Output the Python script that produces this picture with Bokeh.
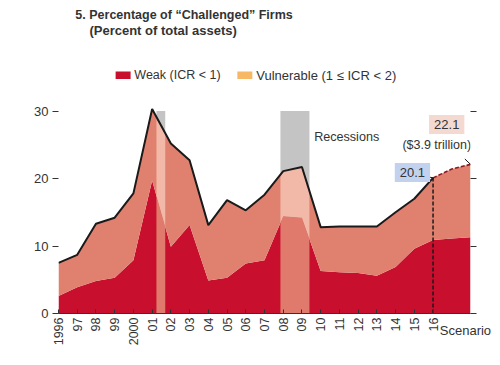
import numpy as np
from bokeh.plotting import figure
from bokeh.models import FixedTicker, LinearAxis, Label, ColumnDataSource
from bokeh.embed import file_html
from bokeh.resources import INLINE

years = list(range(1996, 2019))
total = [7.5, 8.7, 13.3, 14.2, 17.8, 30.3, 25.2, 22.7, 13.1, 16.8, 15.3, 17.6,
         21.1, 21.7, 12.8, 12.9, 12.9, 12.9, 15.0, 17.0, 20.1, 21.4, 22.1]
weak = [2.6, 3.9, 4.8, 5.3, 7.9, 19.7, 9.9, 13.1, 4.9, 5.3, 7.4, 7.9,
        14.4, 14.2, 6.3, 6.1, 6.0, 5.6, 6.9, 9.6, 10.9, 11.1, 11.3]
hist_end = 2016
tick_labels = ["1996", "97", "98", "99", "2000", "01", "02", "03", "04", "05", "06",
               "07", "08", "09", "10", "11", "12", "13", "14", "15", "16"]
scenario_label = "Scenario"
scenario_pos = 2017.73
rec_start = [2001.23, 2007.85]
rec_end = [2001.7, 2009.4]
rec_top = 30

FONT = "Liberation Sans"
TXT = "#333333"
WEAK_C = "#C8102E"
VULN_C = "#E0806E"
WEAK_BAND = "#E07A6C"
VULN_BAND = "#F2B8A8"
LEG_VULN = "#F7B865"

p = figure(width=492, height=353, x_range=(1996, 2018), y_range=(0, 45.2),
           output_backend="svg", toolbar_location=None,
           min_border_left=58, min_border_right=22, min_border_top=8, min_border_bottom=40)
p.outline_line_color = None
p.grid.grid_line_color = None
p.background_fill_color = "white"
p.border_fill_color = "white"

src = ColumnDataSource(dict(x=years, total=total, weak=weak, zero=[0] * len(years)))

p.quad(left=rec_start, right=rec_end, bottom=[0] * len(rec_start), top=[rec_top] * len(rec_start),
       fill_color="#C4C4C4", line_color=None)

p.varea(x="x", y1="zero", y2="weak", source=src, fill_color=WEAK_C)
p.varea(x="x", y1="weak", y2="total", source=src, fill_color=VULN_C)

for s, e in zip(rec_start, rec_end):
    xs = sorted([s, e] + [y for y in years if s < y < e])
    w = np.interp(xs, years, weak)
    t = np.interp(xs, years, total)
    p.varea(x=xs, y1=[0] * len(xs), y2=w, fill_color=WEAK_BAND)
    p.varea(x=xs, y1=w, y2=t, fill_color=VULN_BAND)

hi = years.index(hist_end)
p.line(years[:hi + 1], total[:hi + 1], line_color="#1a1a1a", line_width=2)
p.line(years[hi:], total[hi:], line_color="#8B1A22", line_width=1.6, line_dash="4 2")
p.segment(x0=[hist_end], y0=[0], x1=[hist_end], y1=[total[hi]], line_color="#1a1a1a",
          line_width=1.5, line_dash="4 2")

p.xaxis.ticker = FixedTicker(ticks=years[:hi + 1])
p.xaxis.major_label_overrides = {y: l for y, l in zip(years, tick_labels)}
p.xaxis.major_label_orientation = np.pi / 2
p.xaxis.major_tick_in = 4
p.xaxis.major_tick_out = 0
p.xaxis.minor_tick_line_color = None
p.xaxis.axis_line_color = TXT
p.xaxis.major_tick_line_color = TXT
p.xaxis.major_label_text_font = FONT
p.xaxis.major_label_text_font_size = "12.5px"
p.xaxis.major_label_text_color = TXT
p.xaxis.major_label_standoff = 4

# second bottom axis carrying only the horizontal "Scenario" label
sa = LinearAxis(ticker=FixedTicker(ticks=[scenario_pos]),
                major_label_overrides={scenario_pos: scenario_label})
sa.axis_line_color = None
sa.major_tick_line_color = None
sa.minor_tick_line_color = None
sa.major_label_orientation = "horizontal"
sa.major_label_text_font = FONT
sa.major_label_text_font_size = "13px"
sa.major_label_text_color = TXT
sa.major_label_standoff = -32
p.add_layout(sa, "below")

p.yaxis.ticker = FixedTicker(ticks=[0, 10, 20, 30])
p.yaxis.axis_line_color = None
p.yaxis.major_tick_out = 6
p.yaxis.major_tick_in = 0
p.yaxis.minor_tick_line_color = None
p.yaxis.major_tick_line_color = TXT
p.yaxis.major_label_text_font = FONT
p.yaxis.major_label_text_font_size = "13px"
p.yaxis.major_label_text_color = TXT
p.yaxis.major_label_standoff = 4

ra = LinearAxis(ticker=FixedTicker(ticks=[0, 10, 20, 30]))
ra.axis_line_color = None
ra.major_tick_out = 6
ra.major_tick_in = 0
ra.minor_tick_line_color = None
ra.major_tick_line_color = TXT
ra.major_label_text_color = None
p.add_layout(ra, "right")


def lab(x, y, s, size="13px", style="normal", align="left", bg=None, pad=0):
    p.add_layout(Label(x=x, y=y, text=s, text_font=FONT, text_font_size=size,
                       text_font_style=style, text_color=TXT, text_align=align,
                       text_baseline="middle", background_fill_color=bg, padding=pad))


lab(1996.9, 44.3, "5. Percentage of \u201cChallenged\u201d Firms", size="12.5px", style="bold")
lab(1997.65, 42.0, "(Percent of total assets)", size="13px", style="bold")

p.quad(left=[1999.05, 2005.55], right=[1999.85, 2006.35], bottom=[34.75, 34.75], top=[35.85, 35.85],
       fill_color=[WEAK_C, LEG_VULN], line_color=None)
lab(2000.05, 35.3, "Weak (ICR < 1)", size="12.5px")
lab(2006.56, 35.3, "Vulnerable (1 \u2264 ICR < 2)", size="13px")

lab(2009.65, 26.1, "Recessions", size="12.6px")

lab(2014.9, 20.9, "20.1", size="13px", align="center", bg="#C2D2EE", pad=5)
lab(2016.73, 28.0, "22.1", size="13px", align="center", bg="#F3D9D0", pad=5)
lab(2016.2, 24.9, "($3.9 trillion)", size="12.5px", align="center")
p.segment(x0=[2015.65, 2017.7], y0=[20.3, 22.9], x1=[hist_end, 2018], y1=[total[hi], total[-1]],
          line_color="#1a1a1a", line_width=1)

open("out.html", "w").write(file_html(p, INLINE))
